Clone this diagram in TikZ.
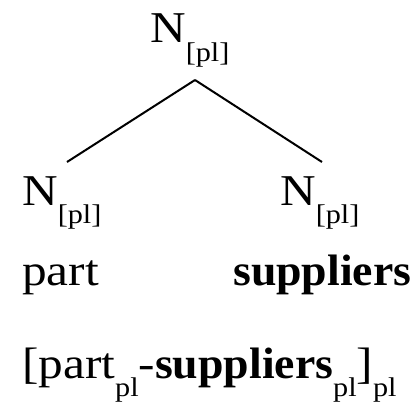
\documentclass[tikz,border=0pt]{standalone}
\usepackage{fontspec}
\setmainfont{Liberation Serif}[FakeStretch=1.12,BoldFeatures={FakeStretch=1.04}]
\newcommand{\mysub}[1]{\raisebox{-0.42em}{\fontsize{27}{30}\selectfont #1}}
\begin{document}
\begin{tikzpicture}[x=1pt,y=1pt,
  lbl/.style={anchor=base west,inner sep=0pt,font=\fontsize{44}{50}\selectfont},
  branch/.style={line width=2pt}]
\useasboundingbox (0,0) rectangle (417,408);
\node[lbl] (top) at (150,365) {N\mysub{[pl]}};
\node[lbl] (left) at (22,203) {N\mysub{[pl]}};
\node[lbl] (right) at (280,203) {N\mysub{[pl]}};
\node[lbl] (part) at (22,123) {part};
\node[lbl] (sup) at (233,123) {\textbf{suppliers}};
\node[lbl] (phrase) at (22,30) {[part\mysub{pl}-\textbf{suppliers}\mysub{pl}]\mysub{pl}};
\coordinate (apex) at (195,328);
\coordinate (lend) at (67,246);
\coordinate (rend) at (322,246);
\draw[branch] (apex) -- (lend);
\draw[branch] (apex) -- (rend);
\end{tikzpicture}
\end{document}
